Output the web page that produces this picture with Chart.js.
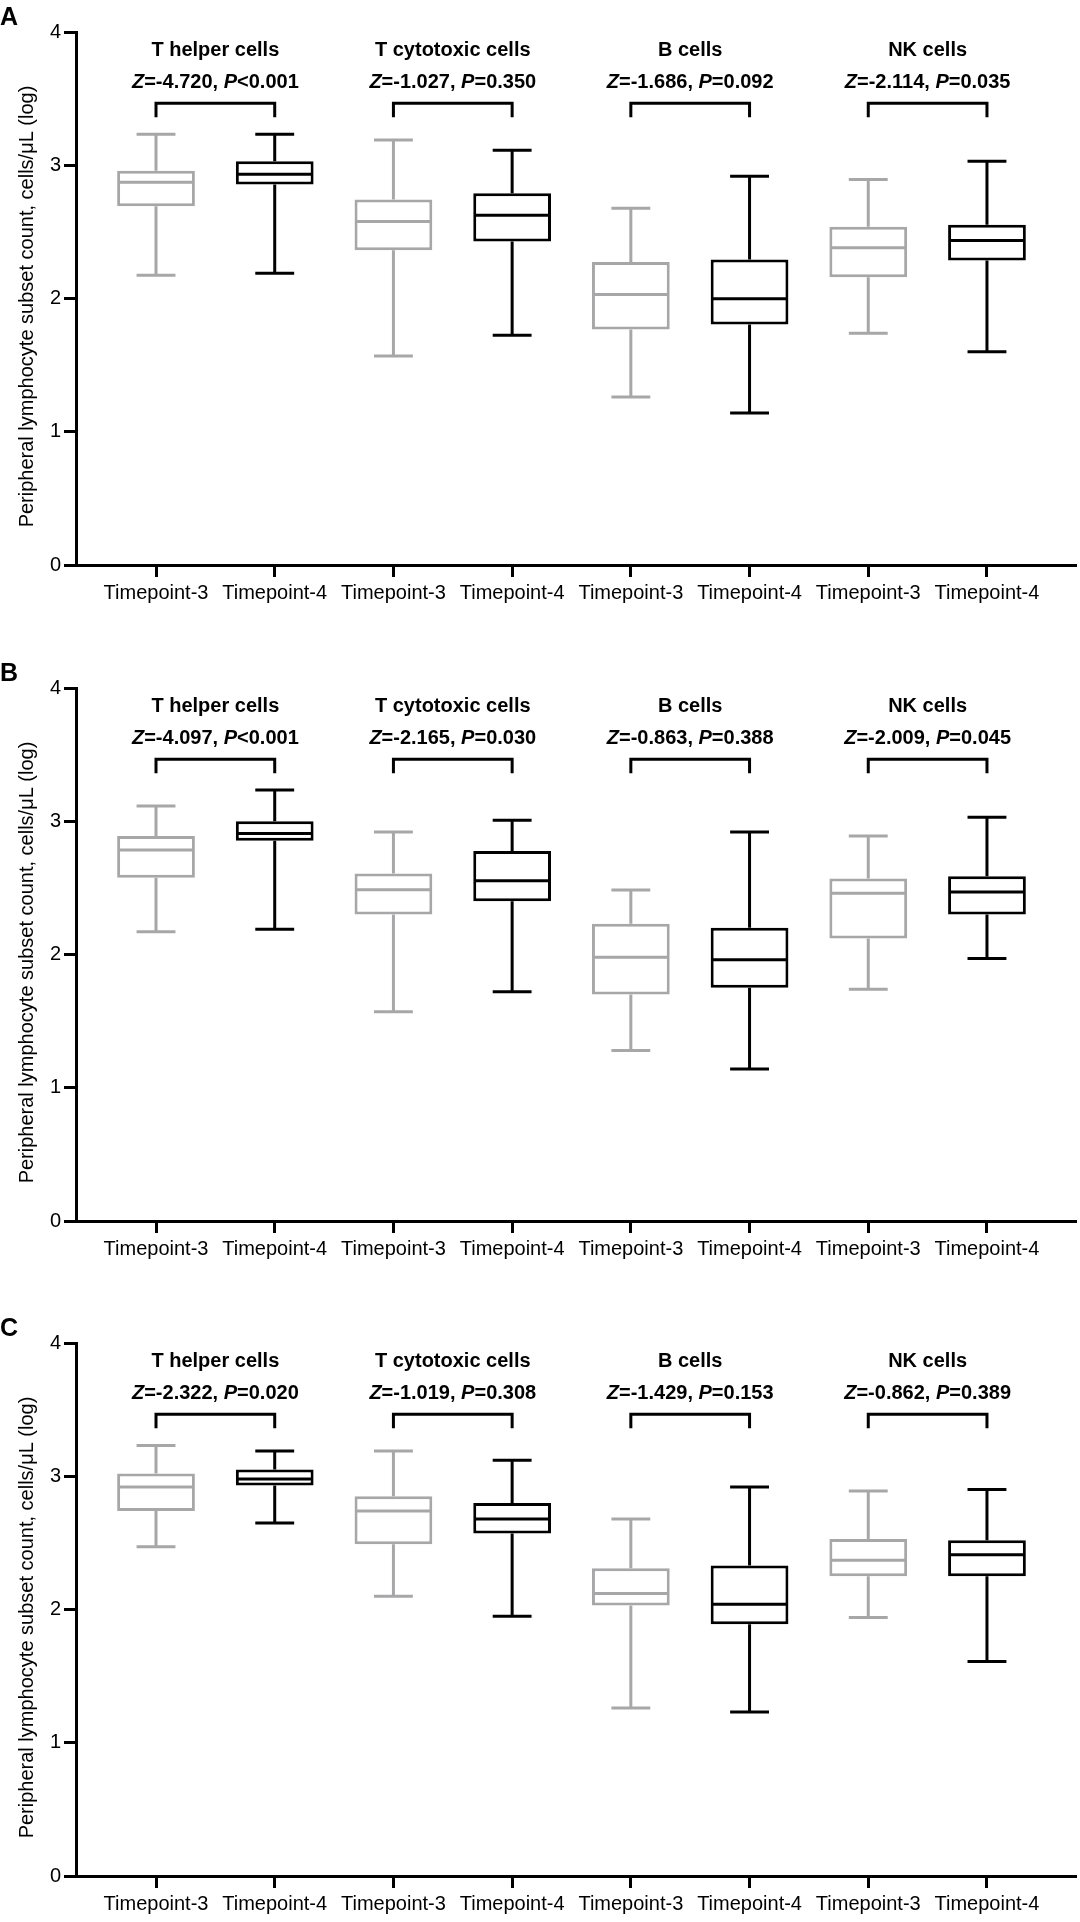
<!DOCTYPE html>
<html>
<head>
<meta charset="utf-8">
<script src="https://cdn.jsdelivr.net/npm/chart.js@4.4.1/dist/chart.umd.min.js"></script>
<style>
html, body { margin: 0; padding: 0; background: #ffffff; }
#wrap { position: relative; width: 1080px; height: 1922px; background: #ffffff; }
.panel { position: absolute; left: 0; width: 1080px; height: 640px; }
canvas { display: block; }
</style>
</head>
<body>
<div id="wrap">
  <div class="panel" style="top:0px"><canvas id="chartA" width="1080" height="640"></canvas></div>
  <div class="panel" style="top:656px"><canvas id="chartB" width="1080" height="640"></canvas></div>
  <div class="panel" style="top:1311px"><canvas id="chartC" width="1080" height="640"></canvas></div>
</div>
<script>
// ---------- data ----------
const timepointLabels = ["Timepoint-3", "Timepoint-4", "Timepoint-3", "Timepoint-4",
                         "Timepoint-3", "Timepoint-4", "Timepoint-3", "Timepoint-4"];
const cellTypes = ["T helper cells", "T cytotoxic cells", "B cells", "NK cells"];
const yTickValues = [0, 1, 2, 3, 4];
const yAxisTitle = "Peripheral lymphocyte subset count, cells/\u03BCL (log)";
const panelLetters = ["A", "B", "C"];

// Panel A
const aMin    = [2.175, 2.19, 1.568, 1.725, 1.26, 1.14, 1.74, 1.60];
const aQ1     = [2.693, 2.855, 2.363, 2.428, 1.768, 1.805, 2.16, 2.285];
const aMedian = [2.873, 2.933, 2.578, 2.625, 2.03, 1.998, 2.38, 2.435];
const aQ3     = [2.958, 3.03, 2.743, 2.79, 2.273, 2.293, 2.538, 2.553];
const aMax    = [3.233, 3.233, 3.19, 3.113, 2.678, 2.918, 2.893, 3.03];
const aZ = ["-4.720", "-1.027", "-1.686", "-2.114"];
const aP = ["<0.001", "=0.350", "=0.092", "=0.035"];

// Panel B
const bMin    = [2.17, 2.19, 1.57, 1.72, 1.28, 1.14, 1.74, 1.97];
const bQ1     = [2.576, 2.853, 2.30, 2.40, 1.70, 1.75, 2.12, 2.30];
const bMedian = [2.785, 2.908, 2.486, 2.554, 1.98, 1.96, 2.459, 2.469];
const bQ3     = [2.89, 3.0, 2.608, 2.776, 2.23, 2.20, 2.571, 2.588];
const bMax    = [3.115, 3.234, 2.92, 3.007, 2.484, 2.92, 2.89, 3.03];
const bZ = ["-4.097", "-2.165", "-0.863", "-2.009"];
const bP = ["<0.001", "=0.030", "=0.388", "=0.045"];

// Panel C
const cMin    = [2.47, 2.65, 2.10, 1.95, 1.26, 1.23, 1.94, 1.61];
const cQ1     = [2.74, 2.93, 2.49, 2.57, 2.03, 1.89, 2.25, 2.25];
const cMedian = [2.92, 2.98, 2.74, 2.68, 2.12, 2.04, 2.37, 2.41];
const cQ3     = [3.02, 3.05, 2.85, 2.80, 2.31, 2.33, 2.53, 2.52];
const cMax    = [3.23, 3.19, 3.19, 3.12, 2.68, 2.92, 2.89, 2.90];
const cZ = ["-2.322", "-1.019", "-1.429", "-0.862"];
const cP = ["=0.020", "=0.308", "=0.153", "=0.389"];

// ---------- style ----------
const FONT = "'Liberation Sans', Arial, Helvetica, sans-serif";
const GRAY = "#a7a7a9";
const BLACK = "#000000";
const LW = 3;

const boxPlotExtras = {
  id: 'boxPlotExtras',
  afterDatasetsDraw(chart) {
    const p = chart.config.options.plugins.boxPlotExtras;
    const ctx = chart.ctx;
    const xs = chart.scales.x, ys = chart.scales.y;
    const meta = chart.getDatasetMeta(0);
    ctx.save();
    ctx.lineWidth = LW;
    ctx.lineCap = 'butt';
    ctx.lineJoin = 'miter';
    for (let i = 0; i < p.mins.length; i++) {
      const bar = meta.data[i];
      const cx = xs.getPixelForValue(i);
      const half = bar.width / 2;
      const capHalf = half / 2;
      ctx.strokeStyle = i % 2 === 0 ? GRAY : BLACK;
      const yMin = ys.getPixelForValue(p.mins[i]);
      const yQ1 = ys.getPixelForValue(p.q1[i]);
      const yMed = ys.getPixelForValue(p.med[i]);
      const yQ3 = ys.getPixelForValue(p.q3[i]);
      const yMax = ys.getPixelForValue(p.maxs[i]);
      ctx.beginPath();
      ctx.moveTo(cx - half + 1, yMed); ctx.lineTo(cx + half - 1, yMed);
      ctx.moveTo(cx, yQ3); ctx.lineTo(cx, yMax);
      ctx.moveTo(cx - capHalf, yMax); ctx.lineTo(cx + capHalf, yMax);
      ctx.moveTo(cx, yQ1); ctx.lineTo(cx, yMin);
      ctx.moveTo(cx - capHalf, yMin); ctx.lineTo(cx + capHalf, yMin);
      ctx.stroke();
    }
    ctx.strokeStyle = BLACK;
    ctx.fillStyle = BLACK;
    for (let g = 0; g < cellTypes.length; g++) {
      const x1 = xs.getPixelForValue(2 * g);
      const x2 = xs.getPixelForValue(2 * g + 1);
      const yTop = ys.getPixelForValue(3.465);
      const yEnd = ys.getPixelForValue(3.36);
      ctx.beginPath();
      ctx.moveTo(x1, yEnd); ctx.lineTo(x1, yTop); ctx.lineTo(x2, yTop); ctx.lineTo(x2, yEnd);
      ctx.stroke();

      const gx = xs.getPixelForValue(2 * g + 0.5);
      ctx.textBaseline = 'middle';
      ctx.textAlign = 'center';
      ctx.font = "bold 20px " + FONT;
      ctx.fillText(cellTypes[g], gx, ys.getPixelForValue(3.86));

      const segs = [
        { t: "Z", f: "italic bold 20px " + FONT },
        { t: "=" + p.z[g] + ", ", f: "bold 20px " + FONT },
        { t: "P", f: "italic bold 20px " + FONT },
        { t: p.p[g], f: "bold 20px " + FONT }
      ];
      let total = 0;
      segs.forEach(s => { ctx.font = s.f; s.w = ctx.measureText(s.t).width; total += s.w; });
      let sx = gx - total / 2;
      const sy = ys.getPixelForValue(3.623);
      ctx.textAlign = 'left';
      segs.forEach(s => { ctx.font = s.f; ctx.fillText(s.t, sx, sy); sx += s.w; });
    }
    // y-axis title (slightly below axis centre, as in the reference)
    ctx.save();
    ctx.translate(27, ys.getPixelForValue(1.94));
    ctx.rotate(-Math.PI / 2);
    ctx.textAlign = 'center';
    ctx.textBaseline = 'middle';
    ctx.font = "20px " + FONT;
    ctx.fillText(yAxisTitle, 0, 0);
    ctx.restore();
    // panel letter
    ctx.textAlign = 'left';
    ctx.textBaseline = 'alphabetic';
    ctx.font = "bold 25px " + FONT;
    ctx.fillText(p.letter, 0, 25);
    ctx.restore();
  }
};

function makePanel(id, letter, mins, q1, med, q3, maxs, z, pv) {
  const ctx = document.getElementById(id).getContext('2d');
  return new Chart(ctx, {
    type: 'bar',
    data: {
      datasets: [{
        data: q1.map((v, i) => ({ x: i, y: [v, q3[i]] })),
        backgroundColor: '#ffffff',
        borderColor: timepointLabels.map((_, i) => i % 2 === 0 ? GRAY : BLACK),
        borderWidth: LW,
        borderSkipped: false,
        categoryPercentage: 1,
        barPercentage: 0.655
      }]
    },
    options: {
      responsive: false,
      animation: false,
      devicePixelRatio: 1,
      layout: { padding: { top: 32, right: 4, left: 0, bottom: 0 } },
      plugins: {
        legend: { display: false },
        tooltip: { enabled: false },
        boxPlotExtras: { letter, mins, q1, med, q3, maxs, z, p: pv }
      },
      scales: {
        x: {
          type: 'linear',
          min: -0.674,
          max: 7.75,
          offset: false,
          afterBuildTicks: s => { s.ticks = timepointLabels.map((_, i) => ({ value: i })); },
          afterFit: s => { s.height = 75; },
          grid: { display: true, drawOnChartArea: false, drawTicks: true, tickLength: 12, tickWidth: LW, tickColor: BLACK, offset: false },
          border: { display: true, color: BLACK, width: LW },
          ticks: {
            callback: v => timepointLabels[v] ?? '',
            font: { family: FONT, size: 20 },
            color: BLACK,
            padding: 4,
            autoSkip: false,
            maxRotation: 0,
            minRotation: 0
          }
        },
        y: {
          type: 'linear',
          min: 0,
          max: 4,
          afterBuildTicks: s => { s.ticks = yTickValues.map(v => ({ value: v })); },
          afterFit: s => { s.width = 76; },
          grid: { display: true, drawOnChartArea: false, drawTicks: true, tickLength: 12, tickWidth: LW, tickColor: BLACK },
          border: { display: true, color: BLACK, width: LW },
          ticks: { font: { family: FONT, size: 20 }, color: BLACK, padding: 3 },
          title: { display: false }
        }
      }
    },
    plugins: [boxPlotExtras]
  });
}

makePanel('chartA', panelLetters[0], aMin, aQ1, aMedian, aQ3, aMax, aZ, aP);
makePanel('chartB', panelLetters[1], bMin, bQ1, bMedian, bQ3, bMax, bZ, bP);
makePanel('chartC', panelLetters[2], cMin, cQ1, cMedian, cQ3, cMax, cZ, cP);
</script>
</body>
</html>
